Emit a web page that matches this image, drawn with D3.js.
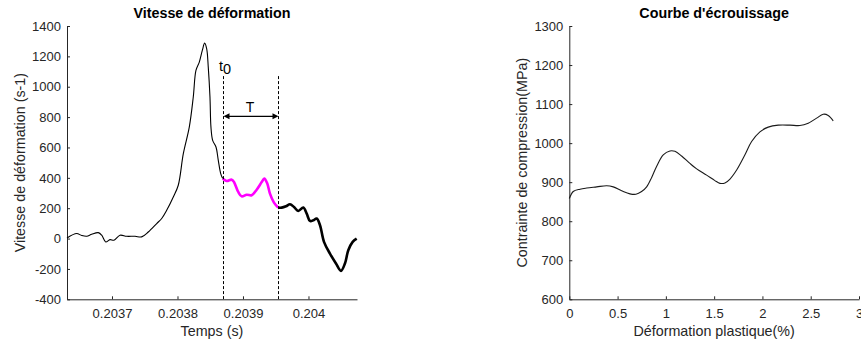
<!DOCTYPE html>
<html>
<head>
<meta charset="utf-8">
<script src="https://cdn.jsdelivr.net/npm/d3@7/dist/d3.min.js"></script>
<style>
  body { margin: 0; background: #fff; }
  svg { display: block; font-family: "Liberation Sans", Arial, Helvetica, sans-serif; }
  .axis path, .axis line { stroke: #262626; }
  .axis text { fill: #262626; font-size: 13px; font-family: "Liberation Sans", Arial, sans-serif; }
</style>
</head>
<body>
<svg id="chart" width="861" height="341"></svg>
<script>
// --- Vitesse de déformation : temps (s) / vitesse (s-1) ---
const times = [0.2036313, 0.2036461, 0.2036537, 0.2036614, 0.2036690, 0.2036791, 0.2036843,
  0.2036904, 0.2036970, 0.2037030, 0.2037122, 0.2037224, 0.2037351, 0.2037453, 0.2037554,
  0.2037683, 0.2037759, 0.2037835, 0.2037936, 0.2038012, 0.2038089, 0.2038180, 0.2038241,
  0.2038282, 0.2038333, 0.2038379, 0.2038415, 0.2038446, 0.2038470, 0.2038496, 0.2038511,
  0.2038537, 0.2038588, 0.2038623, 0.2038660, 0.2038690,
  0.2038751, 0.2038828, 0.2038863, 0.2038928, 0.2038980, 0.2039057, 0.2039133, 0.2039209,
  0.2039286, 0.2039325, 0.2039371, 0.2039412, 0.2039473, 0.2039539,
  0.2039591, 0.2039657, 0.2039718, 0.2039779, 0.2039844, 0.2039921, 0.2039973, 0.2040023,
  0.2040073, 0.2040125, 0.2040176, 0.2040237, 0.2040328, 0.2040420, 0.2040496, 0.2040557,
  0.2040608, 0.2040675, 0.2040736];
const rates = [4, 33, 20, 15, 28, 39, 22,
  -22, -7, -11, 22, 15, 15, 11, 43,
  99, 132, 186, 274, 351, 559, 734, 932,
  1107, 1162, 1239, 1287, 1250, 1129, 932, 734,
  647, 603, 515, 428, 395,
  379, 388, 372, 307, 278, 289, 285, 322,
  372, 395, 362, 296, 237, 204,
  204, 213, 226, 208, 182, 204, 164, 116,
  120, 132, 88, -22, -99, -164, -213, -164,
  -77, -22, 0];
const t0 = 0.2038690;          // début de la fenêtre T
const t1 = 0.2039539;          // fin de la fenêtre T
const markerTop = 1070;        // haut des lignes pointillées
const arrowLevel = 805;        // niveau de la flèche T
const timeTicks = [0.2037, 0.2038, 0.2039, 0.2040];
const rateTicks = [-400, -200, 0, 200, 400, 600, 800, 1000, 1200, 1400];

// --- Courbe d'écrouissage : déformation plastique (%) / contrainte (MPa) ---
const strain = [0, 0.041, 0.111, 0.180, 0.284, 0.387, 0.455, 0.542, 0.628, 0.690, 0.749,
  0.801, 0.853, 0.905, 0.973, 1.042, 1.094, 1.163, 1.249, 1.319, 1.422, 1.508, 1.560,
  1.612, 1.664, 1.733, 1.819, 1.888, 1.974, 2.060, 2.164, 2.285, 2.388, 2.474, 2.561,
  2.629, 2.681, 2.733];
const stress = [858, 876, 882, 885, 888, 891, 888, 878, 870, 869, 876,
  888, 912, 941, 970, 980, 979, 967, 948, 934, 918, 904, 897,
  898, 908, 931, 970, 1004, 1029, 1041, 1046, 1046, 1045, 1051, 1064,
  1074, 1071, 1057];
const strainTicks = [0, 0.5, 1, 1.5, 2, 2.5, 3];
const stressTicks = [600, 700, 800, 900, 1000, 1100, 1200, 1300];

const svg = d3.select("#chart");
const axisColor = "#262626";
// plain number labels: no thousands separator, ASCII minus
const plain = d => String(+(+d).toFixed(4));

function styleAxis(g) {
  g.attr("class", "axis");
  g.select(".domain").attr("stroke", axisColor);
}

// ================= Left panel =================
const L = { x0: 67, x1: 357, y0: 299.3, y1: 26 };
const xL = d3.scaleLinear().domain([0.2036313, 0.2040741]).range([L.x0, L.x1]);
const yL = d3.scaleLinear().domain([-400, 1400]).range([L.y0, L.y1]);

const gL = svg.append("g");

gL.append("g")
  .attr("transform", `translate(0,${L.y0})`)
  .call(d3.axisBottom(xL).tickValues(timeTicks).tickFormat(plain)
    .tickSizeInner(-3).tickSizeOuter(0).tickPadding(9.8))
  .call(styleAxis);

gL.append("g")
  .attr("transform", `translate(${L.x0},0)`)
  .call(d3.axisLeft(yL).tickValues(rateTicks).tickFormat(plain)
    .tickSizeInner(-3).tickSizeOuter(0).tickPadding(6))
  .call(styleAxis);

const pts = times.map((t, i) => ({ t, v: rates[i] }));
const lineL = d3.line().x(d => xL(d.t)).y(d => yL(d.v)).curve(d3.curveCatmullRom.alpha(0.5));

const eps = 1e-9;
const before = pts.filter(d => d.t <= t0 + eps);
const inside = pts.filter(d => d.t >= t0 - eps && d.t <= t1 + eps);
const after = pts.filter(d => d.t >= t1 - eps);

gL.append("path").datum(before).attr("d", lineL)
  .attr("fill", "none").attr("stroke", "#000").attr("stroke-width", 1.1);
gL.append("path").datum(after).attr("d", lineL)
  .attr("fill", "none").attr("stroke", "#000").attr("stroke-width", 2.6)
  .attr("stroke-linejoin", "round");
gL.append("path").datum(inside).attr("d", lineL)
  .attr("fill", "none").attr("stroke", "#ff00ff").attr("stroke-width", 2.6)
  .attr("stroke-linejoin", "round");

// Window markers
[t0, t1].forEach(t => {
  gL.append("line")
    .attr("x1", Math.round(xL(t)) + 0.5).attr("x2", Math.round(xL(t)) + 0.5)
    .attr("y1", yL(markerTop)).attr("y2", yL(-400))
    .attr("stroke", "#000").attr("stroke-width", 1)
    .attr("stroke-dasharray", "3,2");
});

// Double arrow for T
const ax0 = Math.round(xL(t0)) + 0.5, ax1 = Math.round(xL(t1)) + 0.5, ay = yL(arrowLevel);
gL.append("line").attr("x1", ax0 + 4).attr("x2", ax1 - 4).attr("y1", ay).attr("y2", ay)
  .attr("stroke", "#000").attr("stroke-width", 1.2);
gL.append("path").attr("d", `M${ax0},${ay}L${ax0 + 6},${ay - 3}L${ax0 + 6},${ay + 3}Z`).attr("fill", "#000");
gL.append("path").attr("d", `M${ax1},${ay}L${ax1 - 6},${ay - 3}L${ax1 - 6},${ay + 3}Z`).attr("fill", "#000");

gL.append("text").attr("x", (ax0 + ax1) / 2 - 1).attr("y", ay - 4)
  .attr("text-anchor", "middle").attr("font-size", 14).attr("fill", "#000").text("T");

const t0Label = gL.append("text").attr("x", ax0 - 4.5).attr("y", yL(1105))
  .attr("font-size", 14.5).attr("fill", "#000");
t0Label.append("tspan").text("t");
t0Label.append("tspan").attr("dy", 3).text("0");

gL.append("text").attr("x", (L.x0 + L.x1) / 2).attr("y", 18.3)
  .attr("text-anchor", "middle").attr("font-size", 14.3).attr("font-weight", "bold")
  .attr("fill", "#000").text("Vitesse de déformation");
gL.append("text").attr("x", (L.x0 + L.x1) / 2).attr("y", 336)
  .attr("text-anchor", "middle").attr("font-size", 14.3).attr("fill", axisColor)
  .text("Temps (s)");
gL.append("text").attr("transform", `translate(25.1,${(L.y0 + L.y1) / 2}) rotate(-90)`)
  .attr("text-anchor", "middle").attr("font-size", 14.3).attr("fill", axisColor)
  .text("Vitesse de déformation (s-1)");

// ================= Right panel =================
const R = { x0: 569.3, x1: 859, y0: 299.3, y1: 26 };
const xR = d3.scaleLinear().domain([0, 3]).range([R.x0, R.x1]);
const yR = d3.scaleLinear().domain([600, 1300]).range([R.y0, R.y1]);

const gR = svg.append("g");
gR.append("g")
  .attr("transform", `translate(0,${R.y0})`)
  .call(d3.axisBottom(xR).tickValues(strainTicks).tickFormat(plain)
    .tickSizeInner(-3).tickSizeOuter(0).tickPadding(9.8))
  .call(styleAxis);
gR.append("g")
  .attr("transform", `translate(${R.x0},0)`)
  .call(d3.axisLeft(yR).tickValues(stressTicks).tickFormat(plain)
    .tickSizeInner(-3).tickSizeOuter(0).tickPadding(6))
  .call(styleAxis);

const ptsR = strain.map((s, i) => ({ s, v: stress[i] }));
gR.append("path").datum(ptsR)
  .attr("d", d3.line().x(d => xR(d.s)).y(d => yR(d.v)).curve(d3.curveCatmullRom.alpha(0.5)))
  .attr("fill", "none").attr("stroke", "#1a1a1a").attr("stroke-width", 1.1);

gR.append("text").attr("x", (R.x0 + R.x1) / 2).attr("y", 18.3)
  .attr("text-anchor", "middle").attr("font-size", 14.3).attr("font-weight", "bold")
  .attr("fill", "#000").text("Courbe d'écrouissage");
gR.append("text").attr("x", (R.x0 + R.x1) / 2).attr("y", 336)
  .attr("text-anchor", "middle").attr("font-size", 14.3).attr("fill", axisColor)
  .text("Déformation plastique(%)");
gR.append("text").attr("transform", `translate(526.8,${(R.y0 + R.y1) / 2}) rotate(-90)`)
  .attr("text-anchor", "middle").attr("font-size", 14.3).attr("fill", axisColor)
  .text("Contrainte de compression(MPa)");
</script>
</body>
</html>
